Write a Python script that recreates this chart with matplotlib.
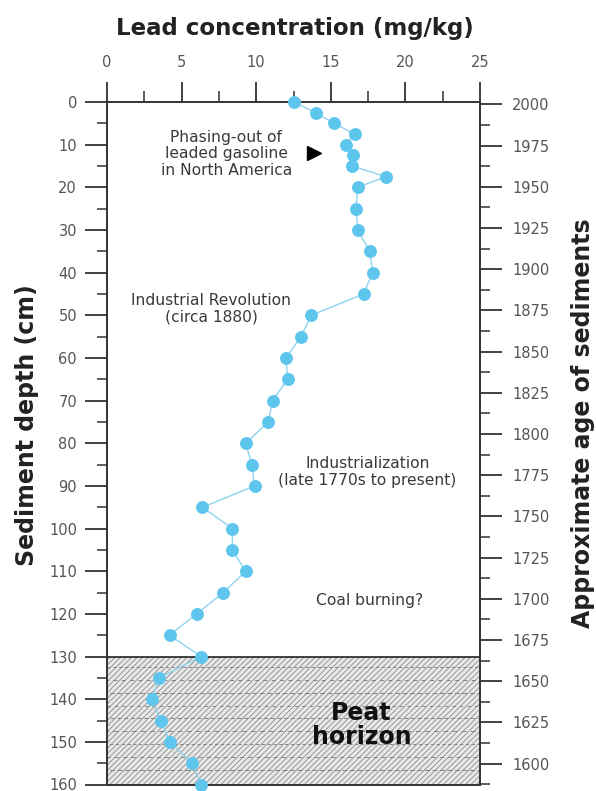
import matplotlib
matplotlib.use("Agg")
import matplotlib.pyplot as plt
from matplotlib.ticker import MultipleLocator

# ---- data ----
depth_cm = [0, 2.5, 5, 7.5, 10, 12.5, 15, 17.5, 20, 25, 30, 35, 40, 45, 50, 55, 60, 65,
            70, 75, 80, 85, 90, 95, 100, 105, 110, 115, 120, 125, 130, 135, 140, 145,
            150, 155, 160]
lead_mgkg = [12.5, 14.0, 15.2, 16.6, 16.0, 16.5, 16.4, 18.7, 16.8, 16.7, 16.8, 17.6, 17.8,
             17.2, 13.7, 13.0, 12.0, 12.1, 11.1, 10.8, 9.3, 9.7, 9.9, 6.4, 8.4, 8.4, 9.3,
             7.8, 6.0, 4.2, 6.3, 3.5, 3.0, 3.6, 4.2, 5.7, 6.3]
peat_top, peat_bottom = 130, 160
gasoline_mark = (13.9, 12.0)
age_ticks = list(range(1600, 2001, 25))

plt.rcParams['font.family'] = ['DejaVu Sans']
plt.rcParams['hatch.linewidth'] = 0.6
plt.rcParams['hatch.color'] = '#8c8c8c'

W, H = 596, 791
fig = plt.figure(figsize=(W / 100, H / 100), dpi=100)
ax = fig.add_axes([107 / W, 1 - 784.5 / H, (480 - 107) / W, (784.5 - 102) / H])

spine_c = '#333333'
tick_c = '#555555'
PX = 0.72  # points per pixel at 100 dpi

# peat horizon
ax.axhspan(peat_top, peat_bottom, facecolor='#e8e8e8', edgecolor='#8c8c8c',
           hatch='//////', linewidth=0, zorder=0)
ax.axhline(peat_top, color='#222222', lw=1.2, zorder=1)
dash_rows = [132.5, 135.5, 138.5, 141.5, 144.5, 147.5, 150.5, 153.5, 156.5]
for i, d in enumerate(dash_rows):
    ax.plot([0, 25], [d, d], color='#777777', lw=0.6,
            linestyle=(i * 3, (4 + i % 3, 3 + (i * 2) % 4)), zorder=1)

# data
ax.plot(lead_mgkg, depth_cm, color='#8fd3ef', lw=1.0, zorder=3)
ax.plot(lead_mgkg, depth_cm, 'o', color='#5ec5ec', markersize=9.3, markeredgewidth=0,
        zorder=4, clip_on=False)

ax.set_xlim(0, 25)
ax.set_ylim(160, 0)

ax.xaxis.tick_top()
ax.xaxis.set_major_locator(MultipleLocator(5))
ax.xaxis.set_minor_locator(MultipleLocator(2.5))
ax.yaxis.set_major_locator(MultipleLocator(10))
ax.yaxis.set_minor_locator(MultipleLocator(5))
ax.tick_params(axis='x', which='major', direction='out', length=20 * PX, width=1.3,
               color=spine_c, labelsize=10.5, labelcolor=tick_c, pad=12 * PX)
ax.tick_params(axis='x', which='minor', direction='out', length=11 * PX, width=1.1,
               color=spine_c)
ax.tick_params(axis='y', which='major', direction='out', length=22 * PX, width=1.3,
               color=spine_c, labelsize=10.5, labelcolor=tick_c, pad=8 * PX)
ax.tick_params(axis='y', which='minor', direction='out', length=10 * PX, width=1.1,
               color=spine_c)
for s in ax.spines.values():
    s.set_color(spine_c)
    s.set_linewidth(1.4)

# right age axis
ax2 = ax.twinx()
ax2.set_ylim(1587.3, 2001.4)
ax2.set_yticks(age_ticks)
ax2.yaxis.set_minor_locator(MultipleLocator(12.5))
ax2.tick_params(axis='y', which='major', direction='out', length=22 * PX, width=1.3,
                color=spine_c, labelsize=10.5, labelcolor=tick_c, pad=10 * PX)
ax2.tick_params(axis='y', which='minor', direction='out', length=10 * PX, width=1.1,
                color=spine_c)
for s in ax2.spines.values():
    s.set_visible(False)

# axis titles
lab_c = '#222222'
fig.text(294.5 / W, 1 - 28 / H, 'Lead concentration (mg/kg)', ha='center', va='center',
         fontsize=16.5, fontweight='bold', color=lab_c)
fig.text(27 / W, 1 - 425 / H, 'Sediment depth (cm)', ha='center', va='center',
         rotation=90, fontsize=17, fontweight='bold', color=lab_c)
fig.text(583 / W, 1 - 423 / H, 'Approximate age of sediments', ha='center', va='center',
         rotation=90, fontsize=17, fontweight='bold', color=lab_c)

# annotations
txt_c = '#3a3a3a'
ax.text(8.0, 12.1, 'Phasing-out of\nleaded gasoline\nin North America', ha='center',
        va='center', fontsize=11.2, color=txt_c, linespacing=1.12, zorder=5)
ax.plot(*gasoline_mark, marker='>', color='black', markersize=10, zorder=5)
ax.text(7.0, 48.4, 'Industrial Revolution\n(circa 1880)', ha='center', va='center',
        fontsize=11.2, color=txt_c, linespacing=1.15, zorder=5)
ax.text(17.45, 86.7, 'Industrialization\n(late 1770s to present)', ha='center',
        va='center', fontsize=11.2, color=txt_c, linespacing=1.15, zorder=5)
ax.text(17.6, 116.8, 'Coal burning?', ha='center', va='center', fontsize=11.2,
        color=txt_c, zorder=5)
ax.text(17.05, 146.1, 'Peat\nhorizon', ha='center', va='center', fontsize=17,
        fontweight='bold', color='#111111', linespacing=1.0, zorder=5)

fig.savefig('out.png', dpi=100)
